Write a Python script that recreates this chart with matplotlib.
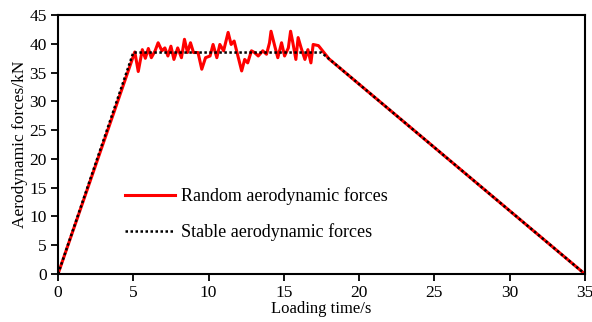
import numpy as np
import matplotlib.pyplot as plt

plt.rcParams['font.family'] = 'Liberation Serif'

# stable (trapezoid) load
t_stable = [0, 5, 17.5, 35]
f_stable = [0, 38.5, 38.5, 0]

# random load
t_random = [0, 5.1, 5.33, 5.6, 5.8, 6.0, 6.2, 6.45, 6.65, 6.9, 7.1, 7.3, 7.5, 7.7, 7.95,
            8.2, 8.4, 8.6, 8.8, 9.0, 9.3, 9.55, 9.8, 10.1, 10.3, 10.55, 10.75, 11.0, 11.3,
            11.5, 11.7, 11.95, 12.2, 12.4, 12.6, 12.85, 13.05, 13.3, 13.6, 13.85, 14.05,
            14.15, 14.4, 14.6, 14.85, 15.05, 15.3, 15.45, 15.6, 15.8, 15.95, 16.15, 16.4,
            16.6, 16.8, 16.95, 17.3, 18.0, 35]
f_random = [0, 38.6, 35.2, 39.0, 37.5, 39.2, 37.6, 38.8, 40.2, 38.8, 39.3, 37.9, 39.6, 37.3, 39.3,
            37.6, 40.8, 38.5, 40.2, 38.5, 38.5, 35.6, 37.6, 37.9, 39.9, 37.6, 39.9, 38.8, 42.0,
            39.9, 40.5, 37.9, 35.3, 37.3, 36.7, 38.8, 38.5, 37.9, 38.8, 38.2, 40.2,
            42.2, 39.6, 37.6, 40.2, 37.9, 39.3, 42.2, 40.2, 37.3, 41.1, 39.3, 37.3,
            39.0, 36.7, 39.9, 39.7, 37.4, 0]

fig = plt.figure(figsize=(5.92, 3.22), dpi=100)
ax = fig.add_axes([0.098, 0.149, 0.89, 0.804])

ax.plot(t_random, f_random, color='red', lw=2.2, label='Random aerodynamic forces')
ax.plot(t_stable, f_stable, color='black', lw=1.8, ls=(0, (1, 1)), label='Stable aerodynamic forces')

ax.set_xlim(0, 35)
ax.set_ylim(0, 45)
ax.set_xticks(np.arange(0, 36, 5))
ax.set_yticks(np.arange(0, 46, 5))
ax.tick_params(direction='out', length=5, width=1.3, labelsize=12.5, pad=3)
for s in ax.spines.values():
    s.set_linewidth(1.5)

ax.set_xlabel('Loading time/s', fontsize=12, labelpad=0)
ax.set_ylabel('Aerodynamic forces/kN', fontsize=12.5, labelpad=1)

ax.legend(loc='center left', bbox_to_anchor=(0.127, 0.232), frameon=False, fontsize=13,
          handlelength=2.75, handletextpad=0.33, labelspacing=1.0, borderpad=0,
          borderaxespad=0)

fig.savefig('out.png', dpi=100)
